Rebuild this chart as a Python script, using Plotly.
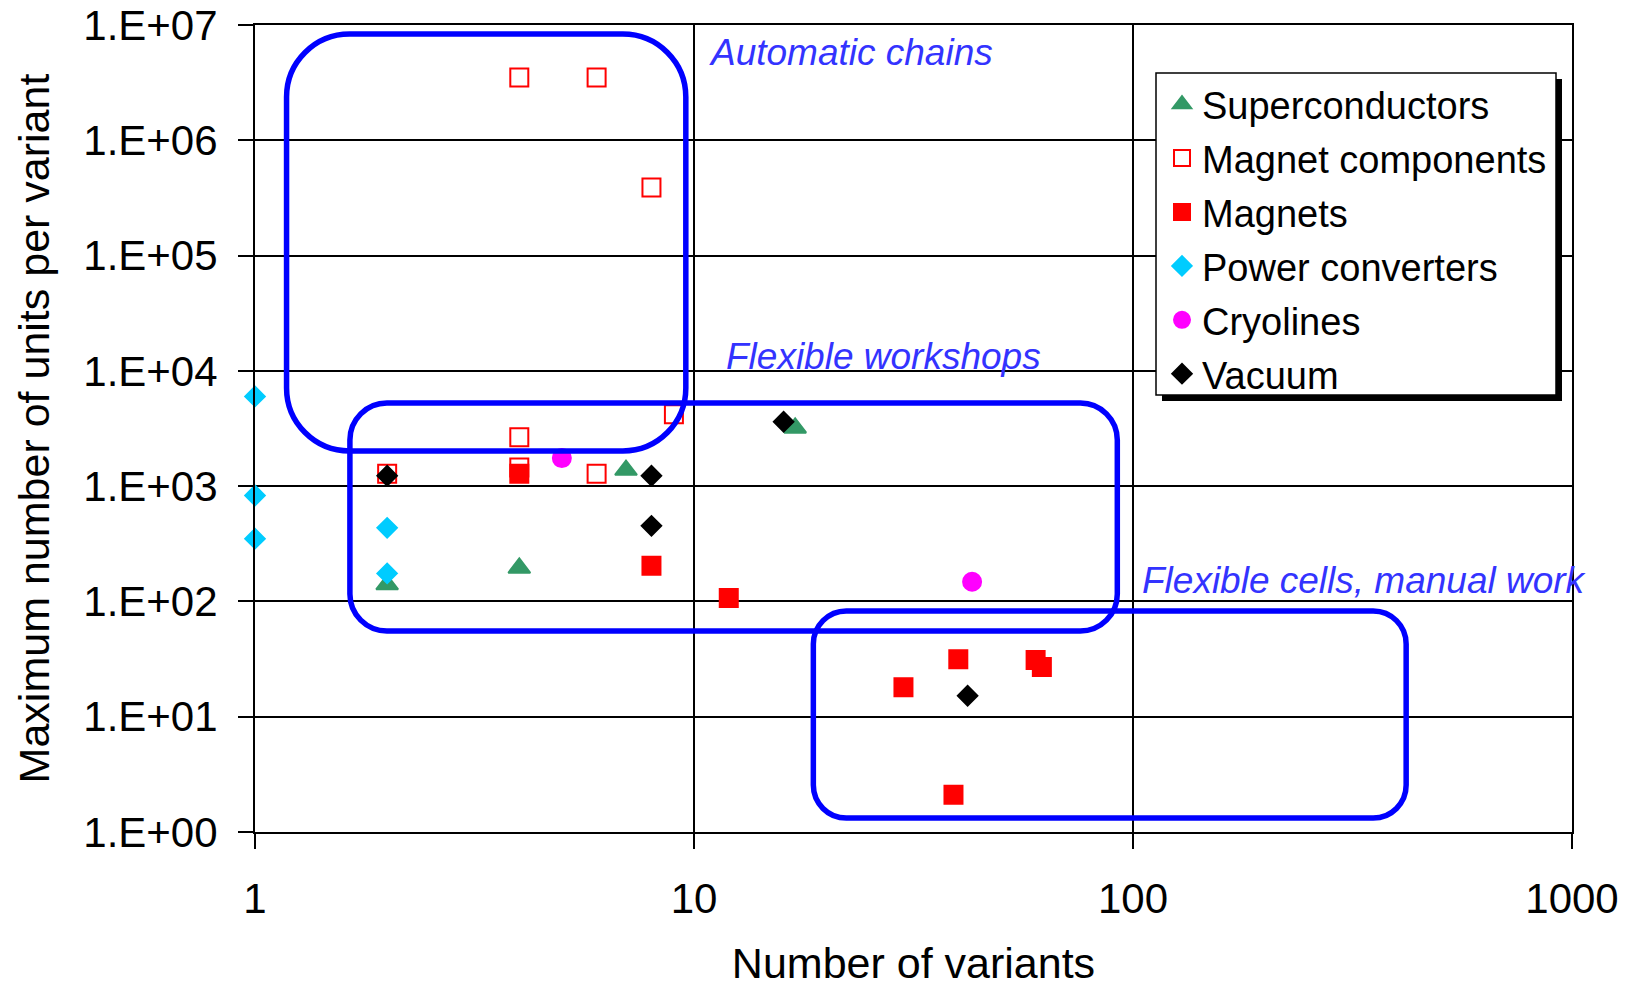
import math
import plotly.graph_objects as go

# ---------------- data ----------------
sc_x = [2, 4, 7, 17]
sc_y = [140, 195, 1380, 3200]

mc_x = [4, 6, 8, 9, 4, 4, 2, 6]
mc_y = [3.5e6, 3.5e6, 3.9e5, 4200, 2650, 1450, 1280, 1280]

mag_x = [4, 8, 12, 30, 40, 60, 62, 39]
mag_y = [1280, 204, 107, 18, 31.5, 31, 27, 2.1]

pc_x = [1, 1, 1, 2, 2]
pc_y = [6000, 830, 350, 435, 175]

cr_x = [5, 43]
cr_y = [1750, 148]

vac_x = [2, 8, 8, 16, 42]
vac_y = [1230, 1230, 453, 3620, 15.2]

y_tickvals = [1, 10, 100, 1e3, 1e4, 1e5, 1e6, 1e7]
y_ticktext = ["1.E+00", "1.E+01", "1.E+02", "1.E+03", "1.E+04", "1.E+05", "1.E+06", "1.E+07"]
x_tickvals = [1, 10, 100, 1000]
x_ticktext = ["1", "10", "100", "1000"]

# region boxes in data units: (x_min, x_max), (y_min, y_max), label
box_names = ["Automatic chains", "Flexible workshops", "Flexible cells, manual work"]
box_x = [(1.18, 9.58), (1.645, 92.1), (18.7, 419)]
box_y = [(2018, 8.35e6), (55.4, 5260), (1.32, 82.6)]

# ---------------- layout geometry ----------------
OFF = 8  # page body margin
W, H = 1634, 992
PL, PT = 255, 25          # plot area top-left in page pixels
PW, PH = 1317, 807
ML, MT = PL - OFF, PT - OFF
MR = W - ML - PW
MB = H - MT - PH
XR = (0, 3)
YR = (0, 7)
FONT = "Liberation Sans, Arial, Helvetica, sans-serif"


def xp(v):  # data -> paper (x)
    return (math.log10(v) - XR[0]) / (XR[1] - XR[0])


def yp(v):  # data -> paper (y)
    return (math.log10(v) - YR[0]) / (YR[1] - YR[0])


def px2paper_x(p):
    return (p - PL) / PW


def px2paper_y(p):
    return (PT + PH - p) / PH


def rounded_path(x0, x1, y0, y1, r):
    rx, ry = r / PW, r / PH
    k = 0.5523
    f = lambda a, b: f"{a:.5f},{b:.5f}"
    return (
        f"M {f(x0 + rx, y1)} L {f(x1 - rx, y1)} "
        f"C {f(x1 - rx + k * rx, y1)} {f(x1, y1 - ry + k * ry)} {f(x1, y1 - ry)} "
        f"L {f(x1, y0 + ry)} "
        f"C {f(x1, y0 + ry - k * ry)} {f(x1 - rx + k * rx, y0)} {f(x1 - rx, y0)} "
        f"L {f(x0 + rx, y0)} "
        f"C {f(x0 + rx - k * rx, y0)} {f(x0, y0 + ry - k * ry)} {f(x0, y0 + ry)} "
        f"L {f(x0, y1 - ry)} "
        f"C {f(x0, y1 - ry + k * ry)} {f(x0 + rx - k * rx, y1)} {f(x0 + rx, y1)} Z"
    )


fig = go.Figure()

GREEN, RED, CYAN, MAGENTA, BLACK = "#339966", "#FF0000", "#00CCFF", "#FF00FF", "#000000"
series = [
    ("Superconductors", sc_x, sc_y, dict(symbol="triangle-up", size=19, color=GREEN,
                                         line=dict(width=2, color=GREEN))),
    ("Magnet components", mc_x, mc_y, dict(symbol="square-open", size=18, color=RED,
                                             line=dict(width=2, color=RED))),
    ("Magnets", mag_x, mag_y, dict(symbol="square", size=18, color=RED,
                                   line=dict(width=2, color=RED))),
    ("Power converters", pc_x, pc_y, dict(symbol="diamond", size=15, color=CYAN,
                                          line=dict(width=2, color=CYAN))),
    ("Cryolines", cr_x, cr_y, dict(symbol="circle", size=18, color=MAGENTA,
                                   line=dict(width=2, color=MAGENTA))),
    ("Vacuum", vac_x, vac_y, dict(symbol="diamond", size=15, color=BLACK,
                                  line=dict(width=2, color=BLACK))),
]
for i, (name, xs, ys, mk) in enumerate(series):
    fig.add_trace(go.Scatter(x=xs, y=ys, mode="markers", name=name, marker=mk,
                             legendgroup=f"g{i}", cliponaxis=False))

shapes = []
radii = [63, 37, 33]
for (bx0, bx1), (by0, by1), r in zip(box_x, box_y, radii):
    shapes.append(dict(type="path", xref="paper", yref="paper",
                       path=rounded_path(xp(bx0), xp(bx1), yp(by0), yp(by1), r),
                       line=dict(color="#0000FF", width=5.5), fillcolor="rgba(0,0,0,0)",
                       layer="above"))

# legend frame with drop shadow
LX0, LX1, LY0, LY1 = 1156, 1556, 73, 395
SH = 6
shapes.append(dict(type="rect", xref="paper", yref="paper",
                   x0=px2paper_x(LX0 + SH), x1=px2paper_x(LX1 + SH),
                   y0=px2paper_y(LY1 + SH), y1=px2paper_y(LY0 + SH),
                   fillcolor="#000000", line=dict(width=0), layer="above"))
shapes.append(dict(type="rect", xref="paper", yref="paper",
                   x0=px2paper_x(LX0), x1=px2paper_x(LX1),
                   y0=px2paper_y(LY1), y1=px2paper_y(LY0),
                   fillcolor="#FFFFFF", line=dict(width=1.5, color="#000000"), layer="above"))

label_pos = [(707, 52), (724, 356), (1140, 580)]
annotations = []
for name, (lx, ly) in zip(box_names, label_pos):
    annotations.append(dict(text=f"<i>{name}</i>", xref="paper", yref="paper",
                            x=px2paper_x(lx), y=px2paper_y(ly), xanchor="left", yanchor="middle",
                            showarrow=False, font=dict(family=FONT, size=37, color="#3333FF")))

axis_common = dict(type="log", showgrid=True, gridcolor="#000000", gridwidth=1.5,
                   showline=True, linecolor="#000000", linewidth=2, mirror=True,
                   ticks="outside", ticklen=15, tickwidth=1.5, tickcolor="#000000",
                   zeroline=False, automargin=False, ticklabeloverflow="allow")

fig.update_layout(
    template="none",
    width=W, height=H, autosize=False,
    margin=dict(l=ML, r=MR, t=MT, b=MB, pad=0),
    paper_bgcolor="#FFFFFF", plot_bgcolor="#FFFFFF",
    font=dict(family=FONT, color="#000000"),
    xaxis=dict(**axis_common, range=list(XR), tickvals=x_tickvals, ticktext=x_ticktext,
               tickfont=dict(size=42, family=FONT), ticklabelstandoff=14,
               title=dict(text="Number of variants", font=dict(size=43, family=FONT), standoff=26)),
    yaxis=dict(**axis_common, range=list(YR), tickvals=y_tickvals, ticktext=y_ticktext,
               tickfont=dict(size=42, family=FONT), ticklabelstandoff=12,
               title=dict(text="Maximum number of units per variant", font=dict(size=43, family=FONT),
                          standoff=20)),
    showlegend=True,
    legend=dict(x=px2paper_x(1162), y=px2paper_y(LY0), xanchor="left", yanchor="top",
                bgcolor="rgba(0,0,0,0)", borderwidth=0, font=dict(size=38, family=FONT, color="#000000"),
                traceorder="grouped", tracegroupgap=1.5, itemsizing="trace"),
    shapes=shapes,
    annotations=annotations,
)

fig.write_html("out.html")
